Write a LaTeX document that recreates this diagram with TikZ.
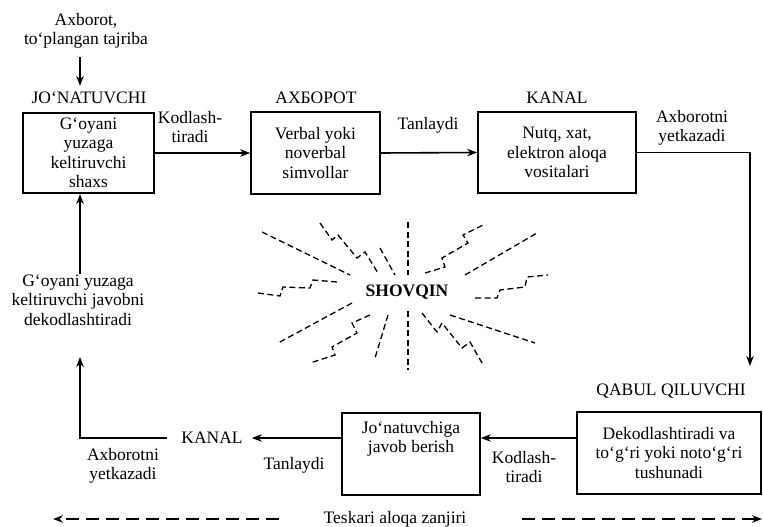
\documentclass[tikz,border=0pt]{standalone}
\usepackage{fontspec}
\setmainfont{Liberation Serif}
\usetikzlibrary{arrows.meta,calc}
\begin{document}
\begin{tikzpicture}[x=1pt,y=-1pt,
  every node/.style={font=\fontsize{17.5}{19.5}\selectfont, inner sep=0pt, align=center},
  box/.style={draw, line width=1.6pt},
  arr/.style={line width=1.6pt, -{Stealth[length=10pt,width=7.5pt]}},
  fback/.style={line width=1.4pt, dash pattern=on 13pt off 7pt, -{Stealth[length=10pt,width=7.5pt]}},
  ray/.style={line width=1.3pt, dash pattern=on 6pt off 3.5pt}]
\useasboundingbox (0,0) rectangle (763,527);

% sender side
\node (src) at (86,31) {Axborot,\\to‘plangan tajriba};
\node (jon) at (89,98) {JO‘NATUVCHI};
\coordinate (inA) at (80,57);
\coordinate (inB) at (80,86);
\draw[arr] (inA) -- (inB);
\node[box, minimum width=131pt, minimum height=80pt] (b1) at (88.5,153) {G‘oyani\\yuzaga\\keltiruvchi\\shaxs};

% message
\node (msg) at (316,98) {АХБОРОТ};
\node[box, minimum width=129pt, minimum height=82pt] (b2) at (315.5,153) {Verbal yoki\\noverbal\\simvollar};

% channel
\node (kan1) at (557,98) {KANAL};
\node[box, minimum width=158pt, minimum height=81pt] (b3) at (557,152.5) {Nutq, xat,\\elektron aloqa\\vositalari};

\draw[arr] (b1.east) -- (b2.west);
\draw[arr] (b2.west -| b2.east) -- (b3.west);
\node (kod1) at (190,127) {Kodlash-\\tiradi};
\node (tan1) at (428,125) {Tanlaydi};
\node (yet1) at (692,128) {Axborotni\\yetkazadi};

% receiver
\coordinate (qtip) at (750,366);
\draw[arr] (b3.east) -| (qtip);
\node (qab) at (671,391) {QABUL QILUVCHI};
\node[box, minimum width=184pt, minimum height=82pt] (b4) at (669,453) {Dekodlashtiradi va\\to‘g‘ri yoki noto‘g‘ri\\tushunadi};

% response
\node[box, minimum width=138pt, minimum height=82pt] (b5) at (411,454) {};
\node (b5t) at (411,439) {Jo‘natuvchiga\\javob berish};
\coordinate (rowR) at (0,438);
\draw[arr] (b4.west |- rowR) -- (b5.east |- rowR);
\node (kod2) at (524,467) {Kodlash-\\tiradi};

\node (kan2) at (212,438) {KANAL};
\draw[arr] (b5.west |- kan2) -- ([xshift=9pt]kan2.east);
\node (tan2) at (294,465) {Tanlaydi};
\node (yet2) at (123,466) {Axborotni\\yetkazadi};
\coordinate (ltip) at (80,357);
\draw[arr] ([xshift=-14pt]kan2.west) -| (ltip);

% decoding of the reply
\node (dec) at (78,300) {G‘oyani yuzaga\\keltiruvchi javobni\\dekodlashtiradi};
\coordinate (dtop) at (80,194);
\draw[arr] (dec.north -| dtop) -- (dtop);

% feedback chain
\node (tes) at (395,519) {Teskari aloqa zanjiri};
\coordinate (fbL) at (53,519);
\coordinate (fbR) at (762,519);
\draw[fback] ([xshift=-45pt]tes.west) -- (fbL);
\draw[fback] ([xshift=55pt]tes.east) -- (fbR);

% noise burst
\node[font=\fontsize{17.5}{19}\selectfont\bfseries] (noise) at (407,292) {SHOVQIN};
\draw[ray] (408,222) -- (408,275);
\draw[ray] (408,311) -- (408,370);
\draw[ray] (262,232) -- (350,275);
\draw[ray] (380,248) -- (395,275);
\draw[ray] (352,303) -- (278,343);
\draw[ray] (388,315) -- (375,358);
\draw[ray] (465,275) -- (537,233);
\draw[ray] (450,315) -- (535,343);
\draw[ray] (320,223) -- (332,240) -- (338,235) -- (357,258) -- (365,252) -- (378,273);
\draw[ray] (258,293) -- (280,296) -- (283,287) -- (310,288) -- (313,280) -- (337,282);
\draw[ray] (370,315) -- (352,323) -- (357,333) -- (332,347) -- (335,355) -- (310,363);
\draw[ray] (425,273) -- (445,267) -- (442,258) -- (468,243) -- (463,235) -- (483,225);
\draw[ray] (475,298) -- (497,298) -- (500,290) -- (525,287) -- (527,277) -- (548,275);
\draw[ray] (422,313) -- (437,332) -- (442,323) -- (462,348) -- (470,342) -- (482,363);
\end{tikzpicture}
\end{document}
